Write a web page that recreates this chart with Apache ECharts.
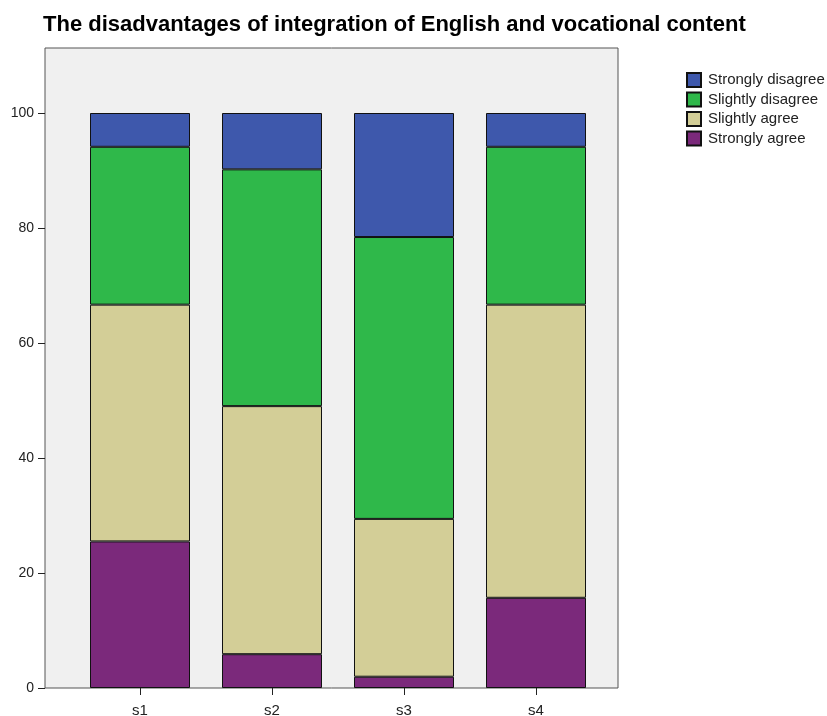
<!DOCTYPE html>
<html><head><meta charset="utf-8">
<script src="https://cdn.jsdelivr.net/npm/echarts@6/dist/echarts.min.js"></script>
<style>html,body{margin:0;padding:0;background:#fff}#c{width:827px;height:716px}</style>
</head><body><div id="c"></div>
<script>
const categories = ['s1', 's2', 's3', 's4'];
const stronglyAgree = [25.49, 5.88, 1.96, 15.69];
const slightlyAgree = [41.18, 43.14, 27.45, 50.98];
const slightlyDisagree = [27.45, 41.18, 49.02, 27.45];
const stronglyDisagree = [5.88, 9.80, 21.57, 5.88];
const yTicks = [0, 20, 40, 60, 80, 100];
const legendOrder = ['Strongly disagree', 'Slightly disagree', 'Slightly agree', 'Strongly agree'];

const font = 'Liberation Sans, Arial, sans-serif';
const chart = echarts.init(document.getElementById('c'));
function bar(name, data, color) {
  return {
    name, type: 'bar', stack: 'total', data, xAxisIndex: 0, yAxisIndex: 0,
    barWidth: 100,
    itemStyle: { color, borderColor: '#111', borderWidth: 1 },
    emphasis: { disabled: true }
  };
}
chart.setOption({
  animation: false,
  title: {
    text: 'The disadvantages of integration of English and vocational content',
    left: 38, top: 9,
    textStyle: { fontFamily: font, fontWeight: 'bold', fontSize: 22, color: '#000' }
  },
  legend: {
    data: legendOrder,
    orient: 'vertical', left: 681, top: 67,
    itemWidth: 14, itemHeight: 14, itemGap: 3.5,
    icon: 'rect',
    textStyle: { fontFamily: font, fontSize: 15, lineHeight: 14, color: '#222', padding: [0, 0, 0, 2] },
    selectedMode: false
  },
  grid: [
    { left: 74, right: 225, top: 113, bottom: 28, outerBoundsMode: 'none', containLabel: false },
    { left: 45, right: 209, top: 48, bottom: 28, outerBoundsMode: 'none', containLabel: false,
      show: true, backgroundColor: '#f0f0f0', borderColor: '#555', borderWidth: 1, z: 0 }
  ],
  xAxis: [
    {
      type: 'category', data: categories, gridIndex: 0,
      axisLine: { show: false },
      axisTick: { show: true, alignWithLabel: true, length: 7, lineStyle: { color: '#222' } },
      axisLabel: { fontFamily: font, fontSize: 15, color: '#222', margin: 15 },
      boundaryGap: true
    },
    { type: 'value', gridIndex: 1, show: false }
  ],
  yAxis: [
    {
      type: 'value', min: 0, max: 100, interval: 20, gridIndex: 0,
      offset: 29,
      axisLine: { show: false },
      axisTick: { show: true, length: 7, lineStyle: { color: '#222' } },
      axisLabel: { fontFamily: font, fontSize: 14, color: '#222', margin: 11,
        formatter: v => yTicks.includes(v) ? String(v) : '' },
      splitLine: { show: false }
    },
    { type: 'value', gridIndex: 1, show: false }
  ],
  series: [
    bar('Strongly agree', stronglyAgree, '#7b297b'),
    bar('Slightly agree', slightlyAgree, '#d3ce97'),
    bar('Slightly disagree', slightlyDisagree, '#2fb84a'),
    bar('Strongly disagree', stronglyDisagree, '#3e58ac')
  ]
});
</script></body></html>
